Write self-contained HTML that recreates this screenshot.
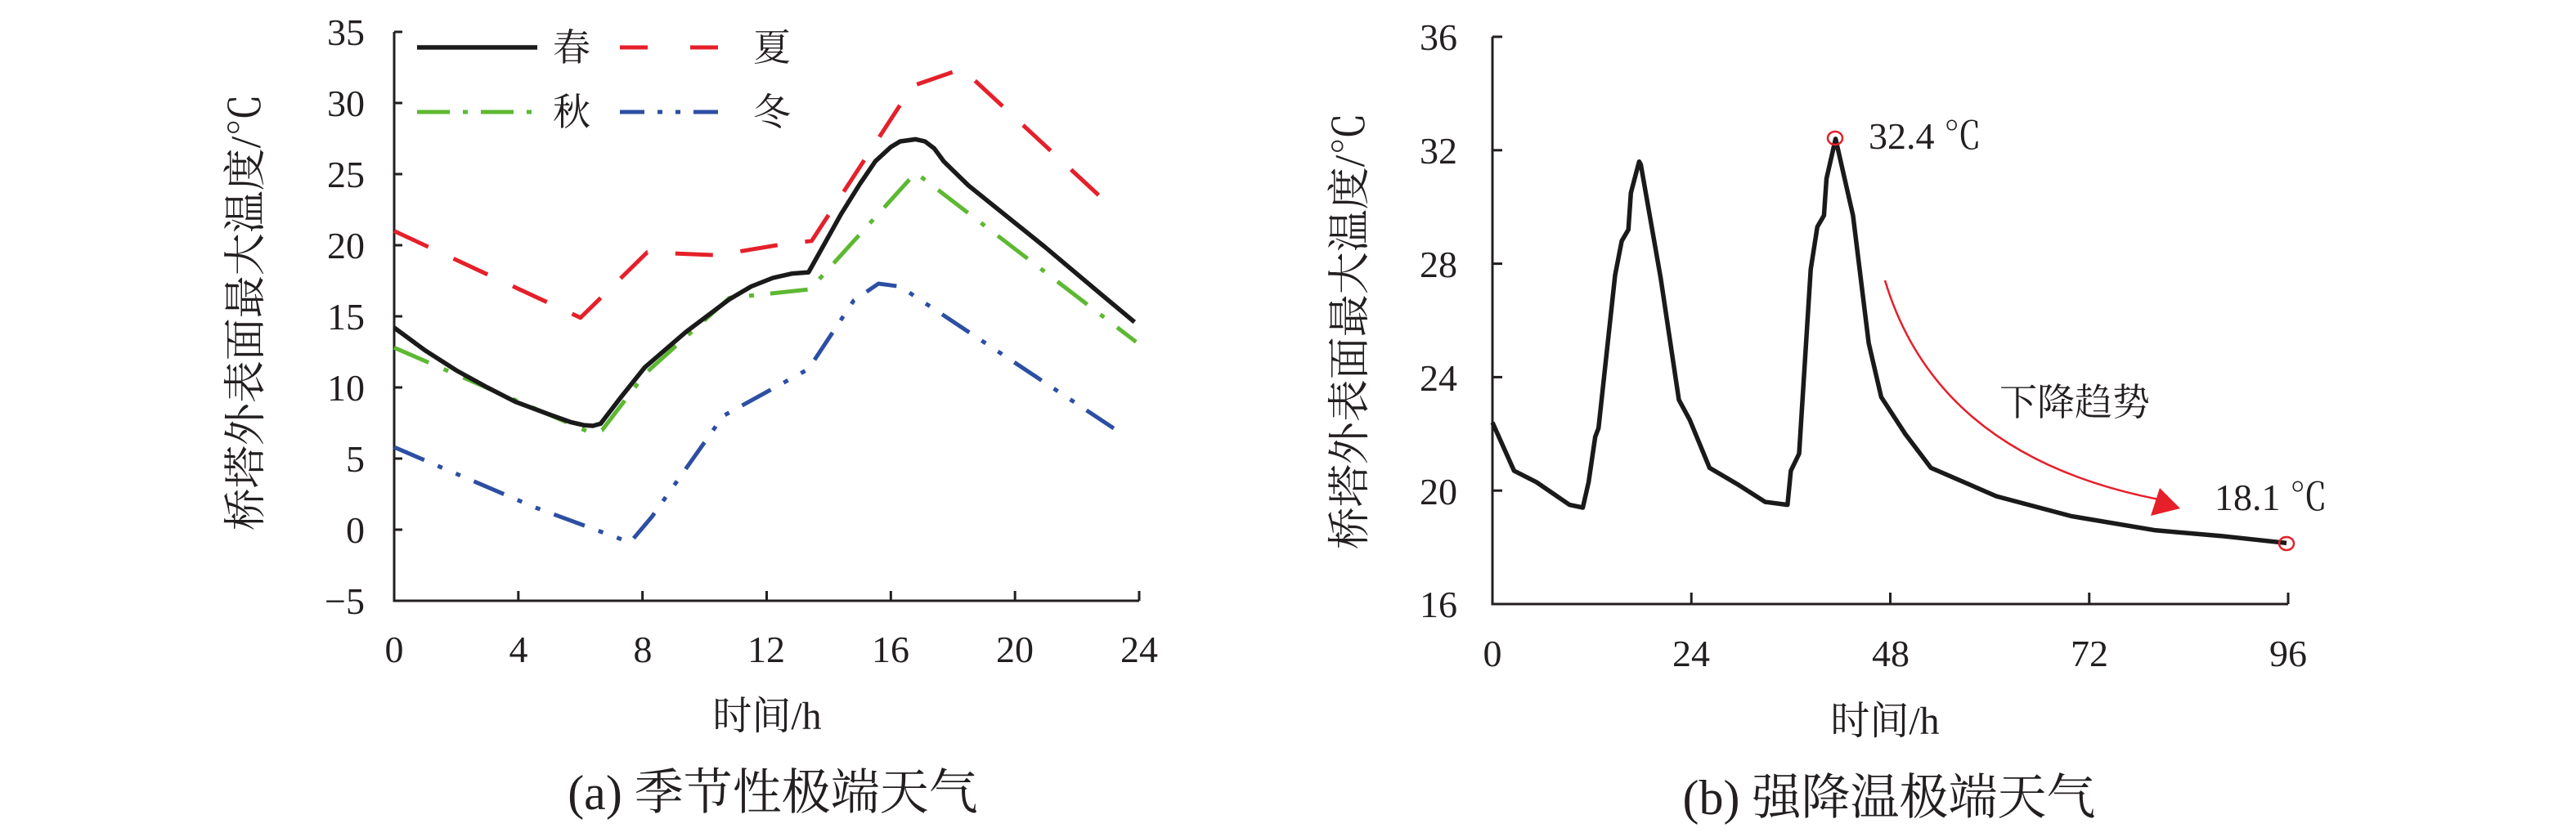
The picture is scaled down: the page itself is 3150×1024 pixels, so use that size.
<!DOCTYPE html>
<html><head><meta charset="utf-8"><style>
html,body{margin:0;padding:0;background:#fff}
svg{display:block}
text{font-family:"Liberation Serif","Noto Serif CJK SC",serif;fill:#231f20}
</style></head><body>
<svg id="s" width="3150" height="1024" viewBox="0 0 3150 1024" xmlns="http://www.w3.org/2000/svg">
<rect width="3150" height="1024" fill="#fff"/>
<g id="g"></g>
<g font-size="46" text-anchor="end">
<text x="446" y="55">35</text><text x="446" y="142">30</text><text x="446" y="229">25</text>
<text x="446" y="316">20</text><text x="446" y="403">15</text><text x="446" y="490">10</text>
<text x="446" y="577">5</text><text x="446" y="664">0</text><text x="446" y="751">−5</text>
</g>
<g font-size="46" text-anchor="middle">
<text x="482" y="810">0</text><text x="634" y="810">4</text><text x="786" y="810">8</text>
<text x="937" y="810">12</text><text x="1089" y="810">16</text><text x="1241" y="810">20</text><text x="1393" y="810">24</text>
<text x="938" y="892" font-size="48">时间/h</text>
<text x="945" y="990" font-size="60">(a) 季节性极端天气</text>
</g>
<text transform="translate(318,382) rotate(-90)" font-size="52" text-anchor="middle">桥塔外表面最大温度/℃</text>
<g font-size="46"><text x="676" y="74">春</text><text x="921" y="74">夏</text><text x="676" y="153">秋</text><text x="921" y="153">冬</text></g>
<g font-size="46" text-anchor="end">
<text x="1782" y="61">36</text><text x="1782" y="200">32</text><text x="1782" y="339">28</text>
<text x="1782" y="478">24</text><text x="1782" y="617">20</text><text x="1782" y="755">16</text>
</g>
<g font-size="46" text-anchor="middle">
<text x="1825" y="815">0</text><text x="2068" y="815">24</text><text x="2312" y="815">48</text><text x="2555" y="815">72</text><text x="2798" y="815">96</text>
<text x="2305" y="898" font-size="48">时间/h</text>
<text x="2310" y="996" font-size="60">(b) 强降温极端天气</text>
</g>
<text transform="translate(1668,405) rotate(-90)" font-size="52" text-anchor="middle">桥塔外表面最大温度/℃</text>
<text x="2285" y="182" font-size="46">32.4 ℃</text>
<text x="2708" y="624" font-size="46">18.1 ℃</text>
<text x="2445" y="508" font-size="46">下降趋势</text>
</svg>
<script>
var g=document.getElementById('g'),NS="http://www.w3.org/2000/svg";
function el(t,a){var e=document.createElementNS(NS,t);for(var k in a)e.setAttribute(k,a[k]);g.appendChild(e);return e;}
function ax(h){return 482+h*(911/24);} function ay(v){return 39+(35-v)*(696/40);}
function bx(h){return 1825+h*(973/96);} function by(v){return 45+(36-v)*(694/20);}
function path(pts,fx,fy,attrs){var d=pts.map(function(p,i){return (i?'L':'M')+fx(p[0]).toFixed(1)+','+fy(p[1]).toFixed(1);}).join(' ');attrs.d=d;attrs.fill='none';attrs['stroke-linejoin']='round';return el('path',attrs);}
el('path',{d:'M'+ax(0)+','+ay(35)+' L'+ax(0)+','+ay(-5)+' L'+ax(24)+','+ay(-5),stroke:'#231f20','stroke-width':3,fill:'none'});
for(var v=-5;v<=35;v+=5)el('line',{x1:ax(0),x2:ax(0)+10,y1:ay(v),y2:ay(v),stroke:'#231f20','stroke-width':3});
for(var h=4;h<=24;h+=4)el('line',{x1:ax(h),x2:ax(h),y1:ay(-5),y2:ay(-5)-12,stroke:'#231f20','stroke-width':3});
var spring=[[0,14.2],[1,12.6],[2,11.2],[3,10.0],[3.9,9.0],[5,8.1],[5.7,7.55],[6.1,7.35],[6.4,7.3],[6.65,7.45],[7.3,9.3],[8.07,11.4],[9.4,13.9],[10.8,16.2],[11.5,17.1],[12.2,17.7],[12.8,18.0],[13.35,18.1],[14.4,22.2],[15.0,24.3],[15.5,25.9],[16.0,26.9],[16.3,27.3],[16.8,27.45],[17.1,27.3],[17.4,26.8],[17.7,25.9],[18.5,24.2],[20.95,19.9],[22.8,16.5],[23.85,14.6]];
var summer=[[0,21.0],[6,14.9],[8.15,19.5],[10.4,19.3],[12.6,20.1],[13.45,20.3],[16.7,31.2],[18.3,32.4],[23.2,22.5]];
var autumn=[[0,12.8],[6.35,6.8],[6.7,7.0],[8.1,11.0],[10.8,16.3],[13.4,16.9],[16.8,25.1],[23.9,13.2]];
var winter=[[0,5.8],[4.5,1.6],[7.6,-0.9],[8.3,0.9],[10.6,8.0],[13.35,11.3],[14.8,16.1],[15.6,17.3],[16.3,17.1],[23.2,7.1]];
path(summer,ax,ay,{stroke:'#e5202a','stroke-width':5,'stroke-dasharray':'46,34'});
path(autumn,ax,ay,{stroke:'#5db832','stroke-width':5,'stroke-dasharray':'46,20,6,20'});
path(winter,ax,ay,{stroke:'#2c4fa3','stroke-width':5,'stroke-dasharray':'40,18,6,18,6,18'});
path(spring,ax,ay,{stroke:'#1a1a1a','stroke-width':5.5});
el('line',{x1:510,x2:657,y1:58,y2:58,stroke:'#1a1a1a','stroke-width':5.5});
el('line',{x1:758,x2:880,y1:58,y2:58,stroke:'#e5202a','stroke-width':5,'stroke-dasharray':'34,52'});
el('line',{x1:510,x2:657,y1:137,y2:137,stroke:'#5db832','stroke-width':5,'stroke-dasharray':'40,16,6,16'});
el('line',{x1:758,x2:880,y1:137,y2:137,stroke:'#2c4fa3','stroke-width':5,'stroke-dasharray':'30,16,6,16,6,16'});
el('path',{d:'M'+bx(0)+','+by(36)+' L'+bx(0)+','+by(16)+' L'+bx(96)+','+by(16),stroke:'#231f20','stroke-width':3,fill:'none'});
for(var v=16;v<=36;v+=4)el('line',{x1:bx(0),x2:bx(0)+12,y1:by(v),y2:by(v),stroke:'#231f20','stroke-width':3});
for(var h=24;h<=96;h+=24)el('line',{x1:bx(h),x2:bx(h),y1:by(16),y2:by(16)-14,stroke:'#231f20','stroke-width':3});
var bd=[[0,22.4],[2.6,20.7],[5.3,20.3],[9.3,19.5],[10.9,19.4],[11.6,20.3],[12.4,21.9],[12.8,22.2],[14.8,27.6],[15.6,28.8],[16.4,29.2],[16.7,30.5],[17.7,31.6],[17.9,31.5],[20.3,27.5],[22.5,23.2],[23.8,22.5],[26.2,20.8],[29.7,20.2],[32.9,19.6],[35.6,19.5],[36,20.7],[37,21.3],[38.4,27.8],[39.2,29.3],[40,29.7],[40.3,31],[41.4,32.4],[43.5,29.7],[45.4,25.2],[46.9,23.3],[49.8,22],[52.9,20.8],[60.8,19.8],[69.8,19.1],[80,18.6],[87.9,18.4],[95.8,18.15]];
path(bd,bx,by,{stroke:'#1a1a1a','stroke-width':5.5});
el('ellipse',{cx:2244,cy:169,rx:9,ry:8,fill:'none',stroke:'#e5202a','stroke-width':2.5});
el('ellipse',{cx:2796,cy:665,rx:9,ry:8,fill:'none',stroke:'#e5202a','stroke-width':2.5});
el('path',{d:'M2305,343 Q2370,560 2645,612',fill:'none',stroke:'#e5202a','stroke-width':2.5});
el('path',{d:'M2666,622 L2630,631 L2641,597 Z',fill:'#e5202a'});
</script>
</body></html>
